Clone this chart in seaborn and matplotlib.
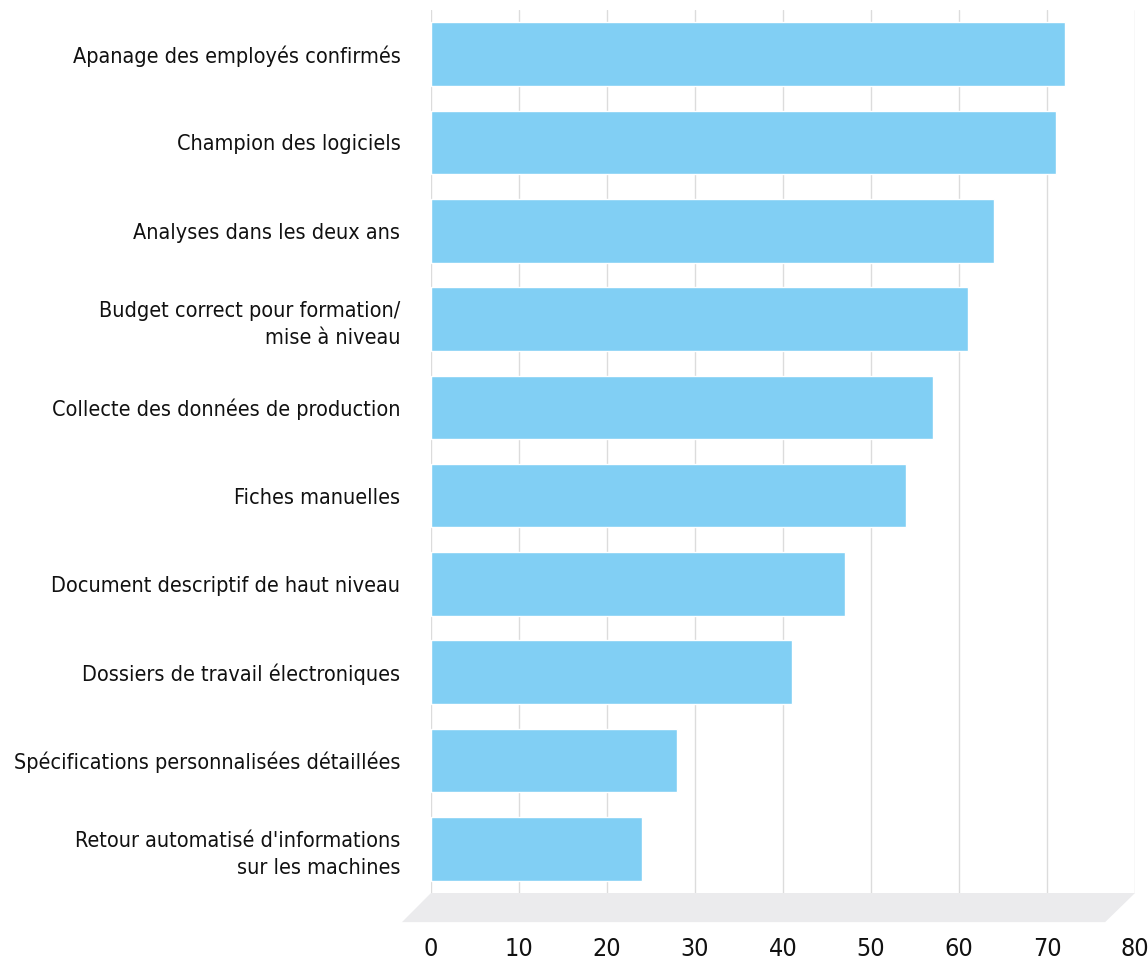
import pandas as pd
import seaborn as sns
import matplotlib.pyplot as plt
from matplotlib.patches import Polygon
import matplotlib.transforms as mtransforms

categories = [
    "Apanage des employés confirmés",
    "Champion des logiciels",
    "Analyses dans les deux ans",
    "Budget correct pour formation/\nmise à niveau",
    "Collecte des données de production",
    "Fiches manuelles",
    "Document descriptif de haut niveau",
    "Dossiers de travail électroniques",
    "Spécifications personnalisées détaillées",
    "Retour automatisé d'informations\nsur les machines",
]
values = [72, 71, 64, 61, 57, 54, 47, 41, 28, 24]
x_ticks = [0, 10, 20, 30, 40, 50, 60, 70, 80]

sns.set_theme(style="white")
plt.rcParams["font.family"] = ["DejaVu Sans"]
plt.rcParams["font.stretch"] = "condensed"
plt.rcParams["text.color"] = "#111111"
plt.rcParams["xtick.color"] = "#111111"
plt.rcParams["ytick.color"] = "#111111"

df = pd.DataFrame({"label": categories, "value": values})

fig = plt.figure(figsize=(11.48, 9.65), dpi=100)
ax = fig.add_axes([0.3754, 0.0746, 0.9887 - 0.3754, 0.9896 - 0.0746])

sns.barplot(data=df, y="label", x="value", color="#81CFF4", width=0.72,
            saturation=1, ax=ax, zorder=3)

ax.set_xlim(0, 80)
ax.set_ylim(9.5, -0.5)
ax.set_xticks(x_ticks)
ax.set_xticklabels([str(t) for t in x_ticks], fontsize=18, fontstretch="condensed")
ax.tick_params(axis="x", length=0, pad=32)
ax.tick_params(axis="y", length=0, pad=22)
for lbl in ax.get_yticklabels():
    lbl.set_fontsize(15.5)
    lbl.set_fontstretch("condensed")
    lbl.set_horizontalalignment("right")
    lbl.set_multialignment("right")
    lbl.set_linespacing(1.45)
ax.set_xlabel("")
ax.set_ylabel("")

ax.xaxis.grid(True, color="#DCDCDC", linewidth=1, zorder=0)
ax.yaxis.grid(False)
for s in ax.spines.values():
    s.set_visible(False)

# grey "floor" under the bars
trans = mtransforms.blended_transform_factory(ax.transData, ax.transAxes)
floor = Polygon([(0, 0), (80, 0), (76.6, -0.033), (-3.3, -0.033)],
                closed=True, transform=trans, clip_on=False,
                facecolor="#EBEBED", edgecolor="none", zorder=2)
ax.add_patch(floor)

fig.savefig("out.png", dpi=100)
